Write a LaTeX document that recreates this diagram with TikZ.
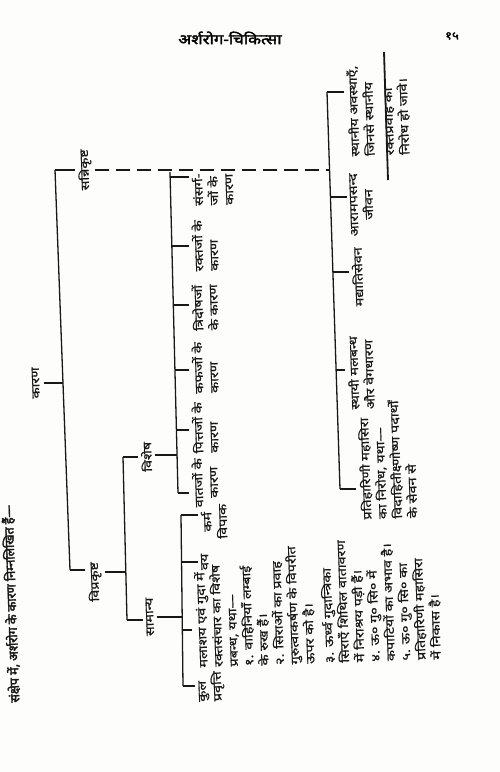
\documentclass[tikz,border=0pt]{standalone}
\usepackage{fontspec}
\newfontfamily\devfont[Script=Devanagari,FakeBold=0.8,FakeStretch=1.25]{Noto Sans}
\newfontfamily\devboldfont[Script=Devanagari,FakeBold=2.5,FakeStretch=1.2]{Noto Sans}
\newfontfamily\capboldfont[Script=Devanagari,FakeBold=3]{Noto Sans}
\definecolor{inkblack}{RGB}{24,24,24}
\definecolor{paperwhite}{RGB}{253,253,251}
\newcommand{\bodyfont}{\devfont\fontsize{11.5}{15.3}\selectfont}
\newcommand{\capfont}{\capboldfont\fontsize{12.5}{15}\selectfont}
\tikzset{
  side/.style={rotate=92, inner sep=0pt, text=inkblack, font=\bodyfont, align=left, anchor=north west},
  leaf/.style={side, anchor=north},
  midlbl/.style={side, anchor=north, align=center},
  brace/.style={line width=1.3pt, inkblack},
  tick/.style={line width=1.3pt, inkblack, shorten >=3pt},
  dashline/.style={line width=1.3pt, inkblack, dash pattern=on 14pt off 7pt}
}
\begin{document}
\begin{tikzpicture}[x=1pt, y=-1pt]
    \fill[paperwhite] (0,0) rectangle (500,772);
    \useasboundingbox (0,0) rectangle (500,772);

    % page head
    \node (title) at (230,38) {\devboldfont\fontsize{14}{16}\selectfont अर्शरोग-चिकित्सा};
    \node (pageno) at (452,36) {\devboldfont\fontsize{11}{13}\selectfont १५};

    \node[side, font=\capfont] (caption) at (8,703) {संक्षेप में, अर्शरोग के कारण निम्नलिखित हैं—};

    % root and first bracket
    \node[midlbl] (karan) at (32,383) {कारण};
    \coordinate (mtop) at (55,170);
    \coordinate (mbot) at (70,570);
    \coordinate (kj) at (63,383);
    \draw[brace] (mtop) -- (mbot);
    \draw[tick, shorten >=0pt, shorten <=4pt] (kj -| karan.south) -- (kj);

    \node[midlbl] (sanni) at (78,170) {सन्निकृष्ट};
    \node[midlbl] (vipra) at (88,582) {विप्रकृष्ट};
    \draw[tick] (mtop) -- (mtop -| sanni.north);
    \draw[tick] (mbot) -- (mbot -| vipra.north);

    % sannikrishta branch
    \coordinate (rtop) at (327,92);
    \coordinate (rdash) at (329.5,170);
    \coordinate (rbot) at (340,489);
    \draw[brace] (rtop) -- (rbot);
    \draw[dashline, shorten <=3pt] (rdash -| sanni.south) -- (rdash);

    \node[side] (sthaniya) at (349,157) {स्थानीय अवस्थाएँ,\\जिनसे स्थानीय\\[4pt]रक्तप्रवाह का\\निरोध हो जावे।};
    \node[midlbl] (aaram) at (350,205) {आरामपसन्द\\जीवन};
    \node[midlbl] (madya) at (352,277) {मद्यातिसेवन};
    \node[side] (sthayi) at (349,410) {स्थायी मलबन्ध\\और वेगधारण};
    \node[side] (prati) at (361,520) {प्रतिहारिणी महासिरा\\का निरोध, यथा—\\विदाहितीक्ष्णोष्ण पदार्थों\\के सेवन से};
    \coordinate (rulea) at (384,52);
    \coordinate (ruleb) at (388,180);
    \draw[line width=1.8pt, inkblack] (rulea) -- (ruleb);

    \coordinate (r2) at (330.4,197);
    \coordinate (r3) at (332.9,272);
    \coordinate (r4) at (336.1,370);
    \draw[tick] (rtop) -- (rtop -| sthaniya.north);
    \draw[tick] (r2) -- (r2 -| aaram.north);
    \draw[tick] (r3) -- (r3 -| madya.north);
    \draw[tick] (r4) -- (r4 -| sthayi.north);
    \draw[tick] (rbot) -- (rbot -| prati.north);

    % viprakrishta branch
    \coordinate (vtop) at (123,457);
    \coordinate (vmid) at (125.5,572);
    \coordinate (vbot) at (127,620);
    \draw[brace] (vtop) -- (vbot);
    \draw[tick, shorten >=0pt, shorten <=3pt] (vmid -| vipra.south) -- (vmid);

    \node[midlbl] (vishesh) at (141,457) {विशेष};
    \node[midlbl] (saman) at (146,617) {सामान्य};
    \draw[tick] (vtop) -- (vtop -| vishesh.north);
    \draw[tick] (vbot) -- (vbot -| saman.north);

    % vishesh bracket
    \coordinate (wtop) at (170,172);
    \coordinate (wj) at (177,455);
    \coordinate (wbot) at (178,493);
    \draw[brace] (wtop) -- (wbot);
    \draw[tick, shorten >=0pt, shorten <=3pt] (wj -| vishesh.south) -- (wj);

    \node[leaf] (sansarg) at (192,190) {संसर्ग-\\जों के\\कारण};
    \node[leaf] (rakt) at (192,246) {रक्तजों के\\कारण};
    \node[leaf] (tridosh) at (192,308) {त्रिदोषजों\\के कारण};
    \node[leaf] (kaph) at (192,368) {कफजों के\\कारण};
    \node[leaf] (pitt) at (192,428) {पित्तजों के\\कारण};
    \node[midlbl] (vaat) at (192,483) {वातजों के\\कारण};

    \coordinate (w1) at (170.1,177);
    \coordinate (w2) at (171.8,246);
    \coordinate (w3) at (173.3,305);
    \coordinate (w4) at (174.9,370);
    \coordinate (w5) at (176.4,430);
    \draw[tick] (w1) -- (w1 -| sansarg.north);
    \draw[tick] (w2) -- (w2 -| rakt.north);
    \draw[tick] (w3) -- (w3 -| tridosh.north);
    \draw[tick] (w4) -- (w4 -| kaph.north);
    \draw[tick] (w5) -- (w5 -| pitt.north);
    \draw[tick] (wbot) -- (wbot -| vaat.north);

    % samanya bracket
    \coordinate (stop) at (181,515);
    \coordinate (s2) at (181.6,562);
    \coordinate (sj) at (182.2,617);
    \coordinate (s3) at (182.4,630);
    \coordinate (sbot) at (183,686);
    \draw[brace] (stop) -- (sbot);
    \draw[tick, shorten >=0pt, shorten <=3pt] (sj -| saman.south) -- (sj);

    \node[midlbl] (karma) at (201,522) {कर्म\\विपाक};
    \node[midlbl] (vay) at (201,562) {वय};
    \node[side] (malashay) at (197,668) {मलाशय एवं गुदा में\\रक्तसंचार का विशेष\\प्रबन्ध, यथा—\\१. वाहिनियाँ लम्बाई\\के रुख हैं।\\२. सिराओं का प्रवाह\\गुरुत्वाकर्षण के विपरीत\\ऊपर को है।\\[4pt]३. ऊर्ध्व गुदान्त्रिका\\सिराएँ शिथिल वातावरण\\में निराश्रय पड़ी हैं।\\४. ऊ० गु० सि० में\\कपाटियों का अभाव है।\\५. ऊ० गु० सि० का\\प्रतिहारिणी महासिरा\\में निकास है।};
    \node[side] (kul) at (199,702) {कुल\\प्रवृत्ति};

    \draw[tick] (stop) -- (stop -| karma.north);
    \draw[tick] (s2) -- (s2 -| vay.north);
    \draw[tick] (s3) -- (s3 -| malashay.north);
    \draw[tick] (sbot) -- (sbot -| kul.north);
\end{tikzpicture}
\end{document}
